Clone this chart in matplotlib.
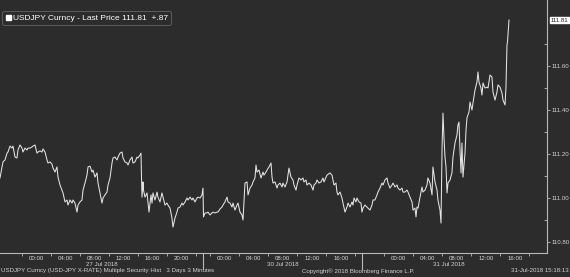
import numpy as np
import matplotlib
matplotlib.use("Agg")
import matplotlib.pyplot as plt
from matplotlib.lines import Line2D
import matplotlib.transforms as mtransforms

# session hours on a compressed (weekend removed) axis; 0 = 26 Jul 19:00
hours_27jul = [
    0.00, 0.28, 0.41, 0.69, 0.97, 1.10, 1.38, 1.66, 1.79, 2.07,
    2.34, 2.48, 2.76, 3.03, 3.17, 3.45, 3.72, 3.86, 4.14, 4.41,
    4.55, 4.83, 5.10, 5.24, 5.52, 5.79, 5.93, 6.21, 6.48, 6.62,
    6.90, 7.17, 7.31, 7.59, 7.86, 8.00, 8.28, 8.55, 8.69, 8.97,
    9.24, 9.38, 9.66, 9.93, 10.07, 10.34, 10.62, 10.76, 11.03, 11.31,
    11.45, 11.72, 12.00, 12.14, 12.41, 12.69, 12.83, 13.10, 13.38, 13.52,
    13.79, 14.07, 14.21, 14.48, 14.76, 14.90, 15.17, 15.45, 15.59, 15.86,
    16.14, 16.28, 16.55, 16.83, 16.97, 17.24, 17.52, 17.66, 17.93, 18.21,
    18.34, 18.62, 18.90, 19.03, 19.31, 19.45, 19.52, 19.59, 19.72, 19.79,
    20.00, 20.28, 20.41, 20.55, 20.83, 20.97, 21.10, 21.38, 21.66, 21.79,
    22.07, 22.34, 22.48, 22.76, 23.03, 23.17, 23.45, 23.72, 23.86, 24.14,
    24.41, 24.55, 24.83, 25.10, 25.24, 25.52, 25.79, 25.93, 26.21, 26.48,
    26.62, 26.90, 27.17, 27.31, 27.59, 27.86, 28.00,
]
price_27jul = [
    111.092, 111.142, 111.165, 111.174, 111.205, 111.210, 111.237, 111.228, 111.237, 111.187,
    111.183, 111.219, 111.242, 111.228, 111.210, 111.228, 111.219, 111.228, 111.228, 111.233,
    111.237, 111.242, 111.205, 111.210, 111.215, 111.210, 111.224, 111.210, 111.174, 111.160,
    111.165, 111.155, 111.137, 111.119, 111.142, 111.096, 111.060, 111.037, 111.024, 110.983,
    110.992, 110.969, 110.992, 110.978, 110.992, 110.978, 110.937, 110.969, 110.983, 110.992,
    111.037, 111.069, 111.105, 111.142, 111.146, 111.119, 111.128, 111.096, 111.115, 111.069,
    111.024, 110.978, 111.001, 111.015, 111.028, 111.060, 111.092, 111.160, 111.183, 111.187,
    111.174, 111.187, 111.205, 111.210, 111.183, 111.165, 111.160, 111.151, 111.174, 111.187,
    111.160, 111.165, 111.187, 111.183, 111.196, 111.205, 111.092, 111.005, 111.074, 111.037,
    111.005, 111.024, 110.983, 110.937, 111.015, 110.978, 111.024, 110.992, 111.028, 111.005,
    110.983, 111.024, 111.005, 110.969, 110.978, 110.969, 110.955, 110.910, 110.869, 110.910,
    110.937, 110.955, 110.960, 110.978, 110.969, 110.983, 111.001, 110.992, 111.005, 110.992,
    111.001, 110.983, 111.001, 111.005, 111.001, 111.015, 111.046,
]

hours_30jul = [
    28.07, 28.28, 28.55, 28.69, 28.97, 29.24, 29.38, 29.66, 29.93, 30.07,
    30.34, 30.62, 30.76, 31.03, 31.31, 31.45, 31.72, 32.00, 32.14, 32.41,
    32.69, 32.83, 33.10, 33.38, 33.52, 33.79, 34.07, 34.21, 34.48, 34.76,
    34.90, 35.17, 35.31, 35.45, 35.72, 36.00, 36.28, 36.41, 36.69, 36.83,
    37.10, 37.38, 37.52, 37.66, 37.93, 38.21, 38.34, 38.62, 38.90, 39.03,
    39.31, 39.59, 39.72, 39.86, 40.14, 40.41, 40.55, 40.83, 40.97, 41.24,
    41.52, 41.79, 41.93, 42.21, 42.34, 42.62, 42.90, 43.17, 43.31, 43.59,
    43.72, 44.00, 44.28, 44.55, 44.69, 44.97, 45.10, 45.52, 45.79, 45.93,
    46.07, 46.34, 46.48, 46.62, 46.90, 47.17, 47.31, 47.59, 47.86, 48.00,
    48.28, 48.55, 48.69, 48.83, 49.10, 49.24, 49.52, 49.79,
]
price_30jul = [
    110.915, 110.933, 110.933, 110.937, 110.924, 110.933, 110.937, 110.933, 110.937, 110.937,
    110.951, 110.960, 110.969, 110.983, 111.005, 110.983, 110.978, 110.960, 110.978, 110.946,
    110.969, 110.978, 110.937, 110.924, 110.901, 111.069, 111.074, 111.015, 111.046, 111.060,
    111.074, 111.092, 111.151, 111.119, 111.128, 111.092, 111.119, 111.105, 111.119, 111.128,
    111.142, 111.160, 111.096, 111.069, 111.074, 111.046, 111.060, 111.069, 111.051, 111.069,
    111.051, 111.074, 111.105, 111.137, 111.096, 111.083, 111.060, 111.037, 111.060, 111.092,
    111.083, 111.092, 111.074, 111.083, 111.060, 111.069, 111.060, 111.037, 111.060, 111.069,
    111.083, 111.069, 111.074, 111.092, 111.074, 111.096, 111.105, 111.115, 111.105, 111.083,
    111.060, 111.069, 111.028, 111.015, 111.028, 111.001, 110.978, 110.937, 110.960, 110.978,
    110.960, 110.983, 110.969, 111.001, 110.983, 111.001, 110.983, 110.978,
]

hours_31jul = [
    49.93, 50.07, 50.34, 50.62, 50.76, 51.03, 51.31, 51.45, 51.72, 52.00,
    52.14, 52.41, 52.69, 52.83, 53.10, 53.38, 53.52, 53.79, 54.07, 54.21,
    54.48, 54.76, 54.90, 55.17, 55.45, 55.59, 55.86, 56.14, 56.28, 56.55,
    56.83, 56.97, 57.24, 57.38, 57.52, 57.66, 57.93, 58.21, 58.34, 58.62,
    58.90, 59.03, 59.31, 59.59, 59.72, 60.00, 60.28, 60.41, 60.69, 60.83,
    60.97, 61.10, 61.24, 61.38, 61.52, 61.66, 61.79, 62.07, 62.34, 62.48,
    62.76, 63.03, 63.17, 63.31, 63.45, 63.59, 63.72, 63.86, 64.14, 64.28,
    64.41, 64.69, 64.83, 65.10, 65.24, 65.52, 65.79, 65.93, 66.07, 66.34,
    66.48, 66.62, 66.90, 67.17, 67.31, 67.59, 67.86, 68.00, 68.28, 68.55,
    68.69, 68.97, 69.24, 69.38, 69.66, 69.79, 69.93, 70.00, 70.21,
]
price_31jul = [
    110.937, 110.955, 110.969, 110.960, 110.955, 110.946, 110.969, 110.992, 110.992, 111.015,
    111.028, 111.046, 111.069, 111.060, 111.083, 111.092, 111.069, 111.046, 111.060, 111.069,
    111.051, 111.060, 111.046, 111.037, 111.046, 111.028, 111.028, 111.037, 111.028, 111.005,
    110.983, 110.946, 110.955, 110.915, 110.960, 110.955, 111.005, 111.051, 111.028, 111.037,
    111.060, 111.092, 111.069, 111.015, 111.142, 111.074, 111.037, 110.992, 110.946, 110.887,
    111.219, 111.387, 111.278, 111.187, 111.142, 111.024, 111.069, 111.083, 111.115, 111.187,
    111.251, 111.287, 111.333, 111.346, 111.219, 111.115, 111.251, 111.096, 111.205, 111.310,
    111.365, 111.392, 111.437, 111.401, 111.433, 111.492, 111.528, 111.574, 111.528, 111.501,
    111.469, 111.524, 111.501, 111.505, 111.501, 111.560, 111.551, 111.483, 111.446, 111.483,
    111.515, 111.505, 111.478, 111.446, 111.424, 111.505, 111.696, 111.710, 111.810,
]

day_names = ["27 Jul 2018", "30 Jul 2018", "31 Jul 2018"]
day_midnight = [5.0, 31.0, 55.0]        # where 00:00 of each day sits
day_hours = [[0, 4, 8, 12, 16, 20], [0, 4, 8, 12, 16], [0, 4, 8, 12, 16]]
day_breaks = [28.0, 50.0]
day_label_pos = [14.0, 39.0, 61.9]
x_end = 75.45
change = 0.87

hours = hours_27jul + hours_30jul + hours_31jul
price = price_27jul + price_30jul + price_31jul
last = price[-1]

bg = "#2c2c2c"
fg = "#d2d2d2"
axis_col = "#b8b8b8"
small = dict(family="Liberation Sans", size=4.4, color=fg)

fig = plt.figure(figsize=(5.7, 2.77), dpi=100, facecolor=bg)
ax = fig.add_axes([0, 24 / 277, 547 / 570, 253 / 277], facecolor=bg)

ax.plot(hours, price, color="#e4e4e4", lw=0.75)

ax.set_xlim(0, x_end)
ax.set_ylim(110.751, 111.901)

for s in ["top", "left"]:
    ax.spines[s].set_visible(False)
for s in ["bottom", "right"]:
    ax.spines[s].set_color(axis_col)
    ax.spines[s].set_linewidth(0.8)

# x ticks: hour labels per day, minor ticks in between
xt, xl, xm = [], [], []
for i, base in enumerate(day_midnight):
    lo = 0 if i == 0 else day_breaks[i - 1]
    hi = day_breaks[i] if i < len(day_breaks) else x_end
    for h in day_hours[i]:
        xt.append(base + h)
        xl.append(f"{h:02d}:00")
    for h in range(-2, 24, 4):
        if lo < base + h < hi:
            xm.append(base + h)
ax.set_xticks(xt)
ax.set_xticklabels(xl, **small)
ax.set_xticks(xm, minor=True)
ax.tick_params(axis="x", which="major", length=0, pad=2.2)
ax.tick_params(axis="x", which="minor", length=2.5, width=0.6, color=axis_col, direction="out")

# y ticks on the right
ax.yaxis.tick_right()
yt = np.arange(110.8, 111.61, 0.2)
ax.set_yticks(yt)
ax.set_yticklabels([f"{v:.2f}" for v in yt], **small)
ax.set_yticks(np.arange(110.9, 111.71, 0.2), minor=True)
ax.tick_params(axis="y", which="major", length=2, width=0.6, color=axis_col, direction="out", pad=1.2)
ax.tick_params(axis="y", which="minor", length=2, width=0.6, color=axis_col, direction="in")

trans = mtransforms.blended_transform_factory(ax.transData, ax.transAxes)
for b in day_breaks:
    ax.plot([b, b], [0, -0.062], transform=trans, color=axis_col, lw=0.8, clip_on=False)
for name, pos in zip(day_names, day_label_pos):
    ax.text(pos, -0.047, name, transform=trans, ha="center", va="center", **small)

# last price tag
ax.annotate(f"{last:.2f}", xy=(1, last), xycoords=("axes fraction", "data"),
            xytext=(2.5, 0), textcoords="offset points", ha="left", va="center",
            family="Liberation Sans", size=4.4, color="#202020",
            bbox=dict(boxstyle="square,pad=0.15", fc="white", ec="white"),
            annotation_clip=False)

handle = Line2D([], [], marker="s", color="white", ls="none", markersize=3.6)
leg = ax.legend([handle], [f"USDJPY Curncy - Last Price {last:.2f}  +{change:.2f}".replace("+0", "+")],
                loc="upper left", bbox_to_anchor=(0.004, 0.957), borderaxespad=0,
                frameon=True, fancybox=True, handlelength=0.6, handletextpad=0.35,
                borderpad=0.35, prop={"family": "Liberation Sans", "size": 6})
leg.get_frame().set_facecolor(bg)
leg.get_frame().set_edgecolor("#5c5c5c")
leg.get_frame().set_linewidth(0.7)
leg.get_frame().set_alpha(1)
for t in leg.get_texts():
    t.set_color("white")

fig.text(1 / 570, 0.022, "USDJPY Curncy (USD-JPY X-RATE) Multiple Security Hist   3 Days 3 Minutes",
         ha="left", va="center", **small)
fig.text(358 / 570, 0.022, "Copyright\u00ae 2018 Bloomberg Finance L.P.", ha="center", va="center", **small)
fig.text(569 / 570, 0.022, "31-Jul-2018 15:18:13", ha="right", va="center", **small)

fig.savefig("out.png", dpi=100, facecolor=bg)
